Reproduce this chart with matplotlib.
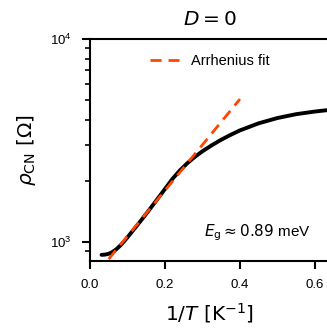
import matplotlib
matplotlib.use('Agg')
import matplotlib.pyplot as plt

plt.rcParams['font.family'] = ['Liberation Sans', 'DejaVu Sans']
plt.rcParams['mathtext.fontset'] = 'dejavusans'

# measured resistance vs inverse temperature
inv_T = [0.031, 0.040, 0.050, 0.060, 0.070, 0.080, 0.090, 0.100, 0.120, 0.140,
         0.160, 0.180, 0.200, 0.220, 0.240, 0.260, 0.280, 0.300, 0.325, 0.350,
         0.375, 0.400, 0.450, 0.500, 0.550, 0.600, 0.640]
rho_cn = [863, 865, 873, 891, 918, 955, 1000, 1052, 1169, 1300,
          1452, 1626, 1820, 2042, 2249, 2443, 2624, 2793, 2992, 3184,
          3365, 3540, 3837, 4074, 4256, 4385, 4470]

# Arrhenius fit line (end points)
fit_x = [0.05, 0.40]
fit_rho = [822, 5050]
Eg = 0.89

fig = plt.figure(figsize=(3.27, 3.35), dpi=100)
ax = fig.add_axes([0.275, 0.221, 0.734, 0.663])

ax.plot(inv_T, rho_cn, color='black', linewidth=2.8, solid_capstyle='round',
        solid_joinstyle='round')
ax.plot(fit_x, fit_rho, color='orangered', linewidth=2, linestyle=(0, (4, 2.5)),
        label='Arrhenius fit')

ax.set_yscale('log')
ax.set_xlim(0, 0.64)
ax.set_ylim(805, 10000)
ax.set_xticks([0.0, 0.2, 0.4, 0.6])

for side in ['left', 'bottom', 'top']:
    ax.spines[side].set_linewidth(1.5)
ax.spines['right'].set_visible(False)
ax.tick_params(which='major', length=6, width=1.5, labelsize=9.5, pad=7)
ax.tick_params(which='minor', length=3.5, width=1.2, labelleft=False)

ax.set_xlabel(r'$1/T\ [\mathrm{K}^{-1}]$', fontsize=14.5, labelpad=7)
ax.set_ylabel(r'$\rho_\mathrm{CN}\ [\Omega]$', fontsize=14.5, labelpad=9)
ax.set_title(r'$D = 0$', fontsize=14.5, pad=10)

ax.legend(loc='upper center', frameon=False, fontsize=10.5,
          bbox_to_anchor=(0.5, 0.99))
ax.text(0.92, 0.126, r'$E_\mathrm{g} \approx %.2f$ meV' % Eg,
        transform=ax.transAxes, ha='right', va='center', fontsize=11)

fig.savefig('out.png', dpi=100)
